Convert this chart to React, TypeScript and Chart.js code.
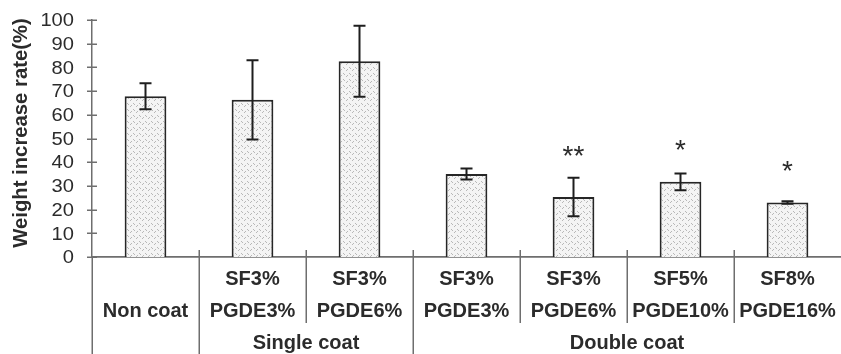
import React, { useEffect, useRef } from "react";
import { Chart, registerables } from "chart.js";

Chart.register(...registerables);

const categories = ["Non coat", "SF3% PGDE3%", "SF3% PGDE6%", "SF3% PGDE3% (D)", "SF3% PGDE6% (D)", "SF5% PGDE10%", "SF8% PGDE16%"];
const topLabels = ["", "SF3%", "SF3%", "SF3%", "SF3%", "SF5%", "SF8%"];
const bottomLabels = ["Non coat", "PGDE3%", "PGDE6%", "PGDE3%", "PGDE6%", "PGDE10%", "PGDE16%"];
const values = [67.8, 66.3, 82.6, 35.0, 25.3, 31.7, 23.0];
const errors = [5.5, 16.7, 15.0, 2.3, 8.1, 3.5, 0.5];
const marks = ["", "", "", "", "**", "*", "*"];
const markLevels = [0, 0, 0, 0, 44.0, 46.6, 37.8];
const groupNames = ["Single coat", "Double coat"];
const groupStart = [1, 3];
const groupEnd = [2, 6];
const yTitle = "Weight increase rate(%)";
const yTicks = [0, 10, 20, 30, 40, 50, 60, 70, 80, 90, 100];
const yMin = 0;
const yMax = 100;
const yStep = 10;

const FONT = "'Liberation Sans', Arial, sans-serif";
const TEXT = "#2b2b2b";
const LINE = "#6e6e6e";

function makePattern(): CanvasPattern | string {
  const c = document.createElement("canvas");
  c.width = 6;
  c.height = 6;
  const g = c.getContext("2d");
  if (!g) return "#eeeeee";
  g.fillStyle = "#f4f4f4";
  g.fillRect(0, 0, 6, 6);
  g.fillStyle = "#b8b8b8";
  g.fillRect(1, 1, 1, 1);
  g.fillRect(2, 2, 1, 1);
  g.fillRect(4, 4, 1, 1);
  g.fillRect(5, 3, 1, 1);
  const p = g.createPattern(c, "repeat");
  return p || "#eeeeee";
}

const extrasPlugin = {
  id: "extras",
  afterDatasetsDraw(chart: any) {
    const ctx = chart.ctx as CanvasRenderingContext2D;
    const y = chart.scales.y;
    const meta = chart.getDatasetMeta(0);
    ctx.save();
    ctx.strokeStyle = "#1e1e1e";
    ctx.lineWidth = 2;
    meta.data.forEach((bar: any, i: number) => {
      const x = bar.x;
      const top = y.getPixelForValue(values[i] + errors[i]);
      const bot = y.getPixelForValue(values[i] - errors[i]);
      ctx.beginPath();
      ctx.moveTo(x, top);
      ctx.lineTo(x, bot);
      ctx.moveTo(x - 6, top);
      ctx.lineTo(x + 6, top);
      ctx.moveTo(x - 6, bot);
      ctx.lineTo(x + 6, bot);
      ctx.stroke();
      if (marks[i]) {
        ctx.fillStyle = TEXT;
        ctx.font = `28px ${FONT}`;
        ctx.textAlign = "center";
        ctx.textBaseline = "middle";
        ctx.fillText(marks[i], x, y.getPixelForValue(markLevels[i]) + 5);
      }
    });
    ctx.restore();
  },
  afterDraw(chart: any) {
    const ctx = chart.ctx as CanvasRenderingContext2D;
    const xs = chart.scales.x;
    const ys = chart.scales.y;
    const area = chart.chartArea;
    const n = categories.length;
    const step = xs.getPixelForValue(1) - xs.getPixelForValue(0);
    const edge = (i: number) => xs.getPixelForValue(i) - step / 2;
    const base = area.bottom;
    const H = chart.height;
    ctx.save();
    // y ticks (crossing the axis) and labels
    ctx.strokeStyle = LINE;
    ctx.lineWidth = 1.5;
    ctx.fillStyle = TEXT;
    ctx.font = `19px ${FONT}`;
    ctx.textAlign = "right";
    ctx.textBaseline = "middle";
    yTicks.forEach((t) => {
      const py = Math.round(ys.getPixelForValue(t)) + 0.25;
      ctx.beginPath();
      ctx.moveTo(area.left - 5, py);
      ctx.lineTo(area.left + 5, py);
      ctx.stroke();
      ctx.save();
      ctx.translate(area.left - 18, ys.getPixelForValue(t) + 1);
      ctx.scale(1.06, 1);
      ctx.fillText(String(t), 0, 0);
      ctx.restore();
    });
    // separators
    const groupEdges = new Set<number>();
    groupStart.forEach((s) => groupEdges.add(s));
    for (let i = 0; i < n; i++) {
      const x = Math.round(edge(i)) + 0.25;
      ctx.beginPath();
      if (i === 0) {
        ctx.moveTo(x, base);
        ctx.lineTo(x, H);
      } else if (groupEdges.has(i)) {
        ctx.moveTo(x, base - 7);
        ctx.lineTo(x, H);
      } else {
        ctx.moveTo(x, base - 7);
        ctx.lineTo(x, base + 66);
      }
      ctx.stroke();
    }
    // labels
    ctx.fillStyle = TEXT;
    ctx.font = `bold 20px ${FONT}`;
    ctx.textAlign = "center";
    ctx.textBaseline = "middle";
    for (let i = 0; i < n; i++) {
      const x = xs.getPixelForValue(i);
      if (topLabels[i]) ctx.fillText(topLabels[i], x, base + 22);
      ctx.fillText(bottomLabels[i], x, base + 54);
    }
    groupNames.forEach((g, k) => {
      const x0 = edge(groupStart[k]);
      const x1 = groupEnd[k] === n - 1 ? area.right : edge(groupEnd[k] + 1);
      ctx.fillText(g, (x0 + x1) / 2, base + 86);
    });
    // y title
    ctx.font = `bold 20.3px ${FONT}`;
    ctx.translate(21, 133);
    ctx.rotate(-Math.PI / 2);
    ctx.fillText(yTitle, 0, 0);
    ctx.restore();
  },
};

export default function App() {
  const ref = useRef<HTMLCanvasElement | null>(null);
  useEffect(() => {
    if (!ref.current) return;
    const chart = new Chart(ref.current, {
      type: "bar",
      data: {
        labels: categories,
        datasets: [
          {
            data: values,
            backgroundColor: makePattern() as any,
            borderColor: "#262626",
            borderWidth: 2,
            barPercentage: 0.39,
            categoryPercentage: 1,
          },
        ],
      },
      options: {
        animation: false,
        responsive: false,
        devicePixelRatio: 1,
        layout: { padding: { top: 20, left: 0, right: 0, bottom: 0 } },
        plugins: { legend: { display: false }, tooltip: { enabled: false }, title: { display: false } },
        scales: {
          x: {
            type: "category",
            grid: { display: false },
            border: { display: true, color: LINE, width: 1.8 },
            ticks: { display: false },
            afterFit: (s: any) => {
              s.height = 97;
            },
          },
          y: {
            min: yMin,
            max: yMax,
            ticks: {
              stepSize: yStep,
              autoSkip: false,
              display: false,
            },
            grid: { display: false, drawTicks: false },
            border: { display: true, color: LINE, width: 1.5 },
            afterFit: (s: any) => {
              s.width = 92;
            },
          },
        },
      },
      plugins: [extrasPlugin],
    });
    return () => chart.destroy();
  }, []);
  return (
    <canvas
      ref={ref}
      width={841}
      height={354}
      style={{ position: "absolute", left: 0, top: 0, width: 841, height: 354, background: "#ffffff" }}
    />
  );
}
